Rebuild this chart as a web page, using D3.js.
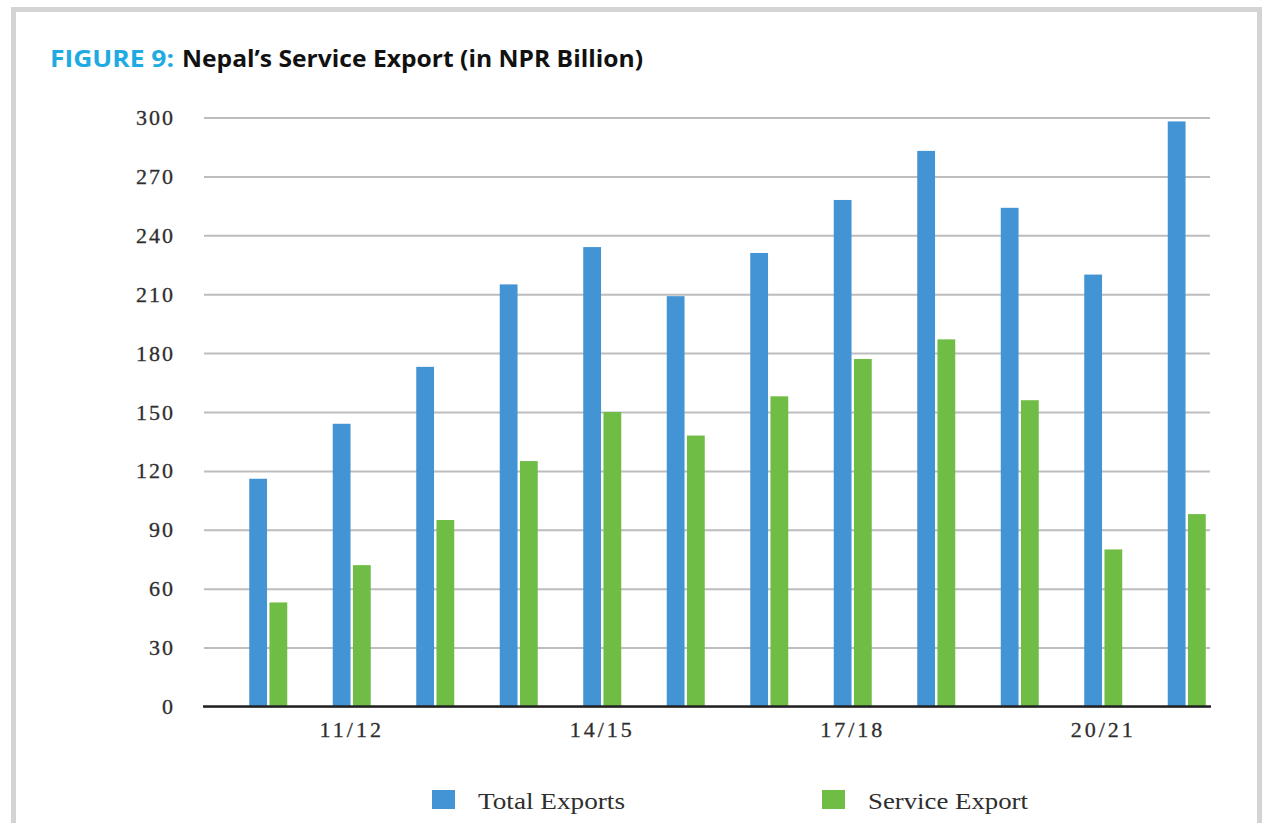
<!DOCTYPE html>
<html>
<head>
<meta charset="utf-8">
<script src="https://cdn.jsdelivr.net/npm/d3@7/dist/d3.min.js"></script>
<style>
  html, body { margin: 0; padding: 0; background: #ffffff; }
  svg { display: block; }
</style>
</head>
<body>
<svg id="chart" width="1262" height="823"></svg>
<script>
// ---- data ----
const categories = ["10/11","11/12","12/13","13/14","14/15","15/16","16/17","17/18","18/19","19/20","20/21","21/22"];
const totalExports = [116, 144, 173, 215, 234, 209, 231, 258, 283, 254, 220, 298];
const serviceExport = [53, 72, 95, 125, 150, 138, 158, 177, 187, 156, 80, 98];
const seriesNames = ["Total Exports", "Service Export"];
const yTicks = [0, 30, 60, 90, 120, 150, 180, 210, 240, 270, 300];
const xTickLabels = ["11/12", "14/15", "17/18", "20/21"];

const colors = { "Total Exports": "#4394d5", "Service Export": "#6fbd45" };

const svg = d3.select("#chart");

// frame
svg.append("rect").attr("x", 0).attr("y", 0).attr("width", 1262).attr("height", 823).attr("fill", "#ffffff");
svg.append("rect").attr("x", 11).attr("y", 7).attr("width", 1251).attr("height", 5).attr("fill", "#d4d4d4");
svg.append("rect").attr("x", 11).attr("y", 7).attr("width", 5).attr("height", 816).attr("fill", "#d4d4d4");
svg.append("rect").attr("x", 1257).attr("y", 7).attr("width", 5).attr("height", 816).attr("fill", "#d4d4d4");

// title
svg.append("text").attr("x", 50).attr("y", 67)
  .attr("font-family", "'Open Sans', 'Noto Sans', sans-serif").attr("font-weight", 700)
  .attr("font-size", 23).attr("fill", "#1eaae2")
  .attr("textLength", 124).attr("lengthAdjust", "spacingAndGlyphs")
  .text("FIGURE 9:");
svg.append("text").attr("x", 182).attr("y", 67)
  .attr("font-family", "'Open Sans', 'Noto Sans', sans-serif").attr("font-weight", 700)
  .attr("font-size", 23).attr("fill", "#111111")
  .attr("textLength", 461).attr("lengthAdjust", "spacingAndGlyphs")
  .text("Nepal\u2019s Service Export (in NPR Billion)");

// scales
const y = d3.scaleLinear().domain([0, 300]).range([706.5, 117.5]);
const x0 = d3.scaleBand().domain(categories).range([226.5, 1228.5]).paddingInner(0).paddingOuter(0);
const x1 = d3.scaleBand().domain(seriesNames).range([-19, 19]).paddingInner(0.12);

const plotLeft = 204, plotRight = 1210;

// gridlines
const yAxis = d3.axisLeft(y).tickValues(yTicks).tickSize(-(plotRight - plotLeft)).tickPadding(29).tickFormat(d3.format("d"));
const gy = svg.append("g").attr("transform", `translate(${plotLeft},0)`).call(yAxis);
gy.select(".domain").remove();
gy.selectAll(".tick line").attr("stroke", "#bdbdbd").attr("stroke-width", 2);
gy.selectAll(".tick text")
  .attr("font-family", "'Liberation Serif', 'DejaVu Serif', serif")
  .attr("font-size", 22).attr("fill", "#2e2e2e").attr("letter-spacing", 2)
  .attr("stroke", "#2e2e2e").attr("stroke-width", 0.3);

// bars
const rows = categories.map((c, i) => ({ cat: c, values: [
  { key: "Total Exports", value: totalExports[i] },
  { key: "Service Export", value: serviceExport[i] }
]}));

const groups = svg.append("g").selectAll("g").data(rows).join("g")
  .attr("transform", d => `translate(${x0(d.cat) + x0.bandwidth() / 2},0)`);
groups.selectAll("rect").data(d => d.values).join("rect")
  .attr("x", d => x1(d.key))
  .attr("width", x1.bandwidth())
  .attr("y", d => y(d.value))
  .attr("height", d => y(0) - y(d.value))
  .attr("fill", d => colors[d.key]);

// x axis baseline
svg.append("line").attr("x1", plotLeft - 1).attr("x2", plotRight + 1)
  .attr("y1", y(0)).attr("y2", y(0)).attr("stroke", "#222222").attr("stroke-width", 2.5);

// x labels
const xAxis = d3.axisBottom(x0).tickValues(xTickLabels).tickSize(0).tickPadding(15);
const gx = svg.append("g").attr("transform", `translate(0,${y(0)})`).call(xAxis);
gx.select(".domain").remove();
gx.selectAll(".tick text")
  .attr("font-family", "'Liberation Serif', 'DejaVu Serif', serif")
  .attr("font-size", 22).attr("fill", "#2e2e2e").attr("letter-spacing", 3)
  .attr("stroke", "#2e2e2e").attr("stroke-width", 0.3);

// legend
const legendItems = [
  { key: "Total Exports", x: 432, tx: 478, w: 147 },
  { key: "Service Export", x: 822, tx: 868, w: 160 }
];
const lg = svg.append("g").selectAll("g").data(legendItems).join("g");
lg.append("rect").attr("x", d => d.x).attr("y", 790).attr("width", 23).attr("height", 19)
  .attr("fill", d => colors[d.key]);
lg.append("text").attr("x", d => d.tx).attr("y", 809)
  .attr("font-family", "'Liberation Serif', 'DejaVu Serif', serif")
  .attr("font-size", 24).attr("fill", "#2e2e2e")
  .attr("textLength", d => d.w).attr("lengthAdjust", "spacingAndGlyphs")
  .text(d => d.key);
</script>
</body>
</html>
